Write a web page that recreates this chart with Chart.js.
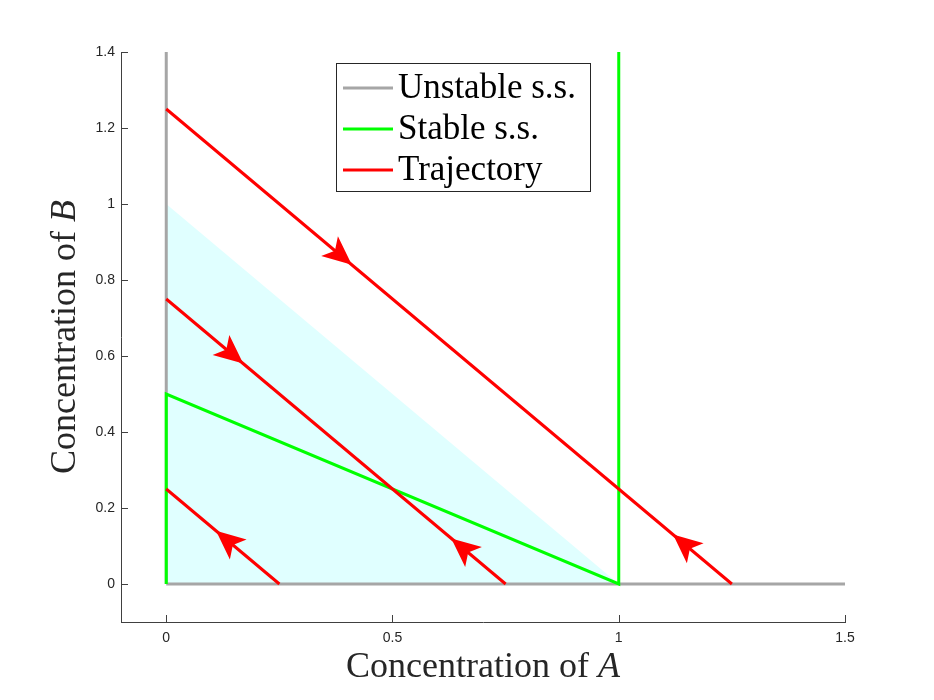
<!DOCTYPE html>
<html>
<head>
<meta charset="utf-8">
<script src="https://cdn.jsdelivr.net/npm/chart.js@4.4.0/dist/chart.umd.min.js"></script>
<style>
  html, body { margin: 0; padding: 0; background: #fff; }
  #wrap { width: 934px; height: 700px; }
</style>
</head>
<body>
<div id="wrap"><canvas id="phaseChart" width="934" height="700"></canvas></div>
<script>
// axis ticks
var xTicks = [0, 0.5, 1, 1.5];
var yTicks = [0, 0.2, 0.4, 0.6, 0.8, 1, 1.2, 1.4];

// shaded region (filled down to B = 0)
var shadeX = [0, 1];
var shadeY = [1, 0];

// unstable steady states (gray)
var grayVertX = [0, 0];
var grayVertY = [0, 1.4];
var grayHorX = [0, 1.5];
var grayHorY = [0, 0];

// stable steady states (green)
var greenX = [0, 0, 1, 1];
var greenY = [0, 0.5, 0, 1.4];

// trajectories: A + B = const, from (0, c) to (c, 0)
var trajTotals = [1.25, 0.75, 0.25];

// arrow heads on trajectories (tip position, direction: 1 = towards A, -1 = towards B)
var arrowX = [0.41, 0.17, 0.63, 0.11, 1.12];
var arrowY = [0.84, 0.58, 0.12, 0.14, 0.13];
var arrowDir = [1, 1, -1, -1, -1];

var legendLabels = ["Unstable s.s.", "Stable s.s.", "Trajectory"];
var legendColors = ["#a6a6a6", "#00ff00", "#ff0000"];

function pts(xs, ys) {
  var out = [];
  for (var i = 0; i < xs.length; i++) out.push({x: xs[i], y: ys[i]});
  return out;
}

var datasets = [];
for (var i = 0; i < trajTotals.length; i++) {
  datasets.push({
    label: "Trajectory",
    data: pts([0, trajTotals[i]], [trajTotals[i], 0]),
    borderColor: "#ff0000", borderWidth: 3, showLine: true, pointRadius: 0, fill: false
  });
}
datasets.push({
  label: "Stable s.s.",
  data: pts(greenX, greenY),
  borderColor: "#00ff00", borderWidth: 3, showLine: true, pointRadius: 0, fill: false
});
datasets.push({
  label: "Unstable s.s.",
  data: pts(grayVertX, grayVertY),
  borderColor: "#a6a6a6", borderWidth: 3, showLine: true, pointRadius: 0, fill: false
});
datasets.push({
  label: "Unstable s.s.",
  data: pts(grayHorX, grayHorY),
  borderColor: "#a6a6a6", borderWidth: 3, showLine: true, pointRadius: 0, fill: false
});
datasets.push({
  label: "region",
  data: pts(shadeX, shadeY),
  borderWidth: 0, borderColor: "rgba(0,0,0,0)", backgroundColor: "#e0ffff",
  showLine: true, pointRadius: 0, fill: "origin"
});

var axisColor = "#404040";
var tickFont = {family: "'Liberation Sans', Arial, sans-serif", size: 14};

var extras = {
  id: "extras",
  afterDatasetsDraw: function(chart) {
    var ctx = chart.ctx, xs = chart.scales.x, ys = chart.scales.y, area = chart.chartArea;
    // arrow heads
    ctx.save();
    ctx.fillStyle = "#ff0000";
    for (var i = 0; i < arrowX.length; i++) {
      var tx = xs.getPixelForValue(arrowX[i]), ty = ys.getPixelForValue(arrowY[i]);
      var bx = xs.getPixelForValue(arrowX[i] - arrowDir[i] * 0.1);
      var by = ys.getPixelForValue(arrowY[i] + arrowDir[i] * 0.1);
      var ux = tx - bx, uy = ty - by, len = Math.sqrt(ux * ux + uy * uy);
      ux /= len; uy /= len;
      var nx = -uy, ny = ux;
      var L = 29, W = 13, I = 22;
      ctx.beginPath();
      ctx.moveTo(tx, ty);
      ctx.lineTo(tx - L * ux + W * nx, ty - L * uy + W * ny);
      ctx.lineTo(tx - I * ux, ty - I * uy);
      ctx.lineTo(tx - L * ux - W * nx, ty - L * uy - W * ny);
      ctx.closePath();
      ctx.fill();
    }
    ctx.restore();

    // inward tick marks
    ctx.save();
    ctx.strokeStyle = axisColor;
    ctx.lineWidth = 1;
    ctx.beginPath();
    xTicks.forEach(function(v) {
      var px = Math.round(xs.getPixelForValue(v)) + 0.5;
      ctx.moveTo(px, area.bottom);
      ctx.lineTo(px, area.bottom - 7);
    });
    yTicks.forEach(function(v) {
      var py = Math.round(ys.getPixelForValue(v)) + 0.5;
      ctx.moveTo(area.left, py);
      ctx.lineTo(area.left + 7, py);
    });
    ctx.stroke();
    ctx.restore();
  },
  afterDraw: function(chart) {
    var ctx = chart.ctx, area = chart.chartArea;
    var serif = "'Liberation Serif', 'Times New Roman', serif";
    ctx.save();
    ctx.fillStyle = "#262626";
    ctx.textBaseline = "alphabetic";
    ctx.textAlign = "left";

    // x axis title
    ctx.font = "36px " + serif;
    var w1 = ctx.measureText("Concentration of ").width;
    ctx.font = "italic 36px " + serif;
    var w2 = ctx.measureText("A").width;
    var cx = (area.left + area.right) / 2;
    var sx = cx - (w1 + w2) / 2;
    ctx.font = "36px " + serif;
    ctx.fillText("Concentration of ", sx, 677);
    ctx.font = "italic 36px " + serif;
    ctx.fillText("A", sx + w1, 677);

    // y axis title
    ctx.save();
    ctx.translate(75, (area.top + area.bottom) / 2);
    ctx.rotate(-Math.PI / 2);
    ctx.font = "36px " + serif;
    var h1 = ctx.measureText("Concentration of ").width;
    ctx.font = "italic 36px " + serif;
    var h2 = ctx.measureText("B").width;
    ctx.font = "36px " + serif;
    ctx.fillText("Concentration of ", -(h1 + h2) / 2, 0);
    ctx.font = "italic 36px " + serif;
    ctx.fillText("B", -(h1 + h2) / 2 + h1, 0);
    ctx.restore();

    // legend
    ctx.fillStyle = "#ffffff";
    ctx.fillRect(337, 64, 254, 128);
    ctx.strokeStyle = "#262626";
    ctx.lineWidth = 1;
    ctx.strokeRect(336.5, 63.5, 254, 128);
    ctx.font = "35px " + serif;
    for (var i = 0; i < legendLabels.length; i++) {
      var yy = 88 + i * 41;
      ctx.strokeStyle = legendColors[i];
      ctx.lineWidth = 3;
      ctx.beginPath();
      ctx.moveTo(343, yy);
      ctx.lineTo(393, yy);
      ctx.stroke();
      ctx.fillStyle = "#000000";
      ctx.fillText(legendLabels[i], 398, yy + 10);
    }
    ctx.restore();
  }
};

new Chart(document.getElementById("phaseChart"), {
  type: "scatter",
  data: {datasets: datasets},
  options: {
    responsive: false,
    animation: false,
    events: [],
    layout: {padding: {top: 52, right: 89, left: 0, bottom: 0}},
    plugins: {legend: {display: false}, tooltip: {enabled: false}},
    scales: {
      x: {
        type: "linear", min: -0.1, max: 1.5,
        afterBuildTicks: function(s) { s.ticks = xTicks.map(function(v) { return {value: v}; }); },
        afterFit: function(s) { s.height = 78; },
        grid: {drawOnChartArea: false, drawTicks: false},
        border: {display: true, color: axisColor, width: 1},
        ticks: {font: tickFont, color: "#262626", padding: 8, maxRotation: 0,
          callback: function(v) { return String(v); }}
      },
      y: {
        type: "linear", min: -0.1, max: 1.4,
        afterBuildTicks: function(s) { s.ticks = yTicks.map(function(v) { return {value: v}; }); },
        afterFit: function(s) { s.width = 121; },
        grid: {drawOnChartArea: false, drawTicks: false},
        border: {display: true, color: axisColor, width: 1},
        ticks: {font: tickFont, color: "#262626", padding: 6,
          callback: function(v) { return String(v); }}
      }
    }
  },
  plugins: [extras]
});
</script>
</body>
</html>
